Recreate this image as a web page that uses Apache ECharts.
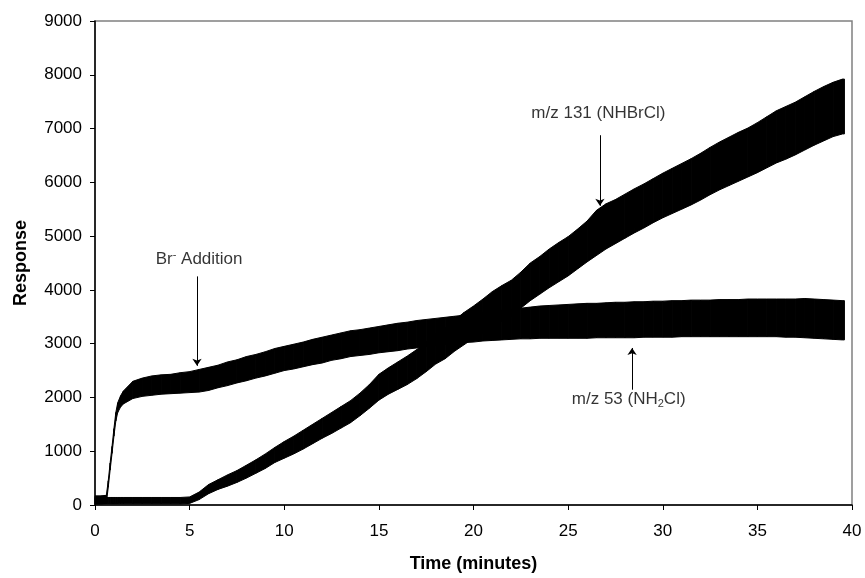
<!DOCTYPE html>
<html>
<head>
<meta charset="utf-8">
<script src="https://cdn.jsdelivr.net/npm/echarts@6/dist/echarts.min.js"></script>
<style>
html,body{margin:0;padding:0;background:#fff;}
#chart{width:865px;height:578px;}
</style>
</head>
<body>
<div id="chart"></div>
<script>
// Time grid (minutes)
const T = [0, 0.3, 0.6, 0.7, 0.8, 0.9, 1.0, 1.1, 1.2, 1.35, 1.5,
  2, 2.5, 3, 3.5, 4, 4.5, 5, 5.5, 6, 6.5, 7, 7.5, 8, 8.5, 9, 9.5, 10,
  10.5, 11, 11.5, 12, 12.5, 13, 13.5, 14, 14.5, 15, 15.5, 16, 16.5, 17, 17.5, 18,
  18.5, 19, 19.5, 20, 20.5, 21, 21.5, 22, 22.5, 23, 23.5, 24, 24.5, 25,
  25.5, 26, 26.5, 27, 27.5, 28, 28.5, 29, 29.5, 30, 30.5, 31, 31.5, 32,
  32.5, 33, 33.5, 34, 34.5, 35, 35.5, 36, 36.5, 37, 37.5, 38, 38.5, 39, 39.5, 39.6];

// m/z 53 (NH2Cl) noise band: lower / upper envelope
const lo53 = [20, 20, 30, 330, 650, 960, 1280, 1560, 1720, 1820, 1880,
  1980, 2020, 2040, 2060, 2070, 2080, 2090, 2100, 2130, 2180, 2220, 2270, 2310, 2360, 2400, 2450, 2500,
  2530, 2570, 2610, 2640, 2690, 2720, 2760, 2780, 2800, 2830, 2850, 2870, 2900, 2920, 2950, 2970,
  2990, 3000, 3020, 3030, 3050, 3060, 3070, 3080, 3090, 3090, 3100, 3100, 3100, 3100,
  3100, 3100, 3110, 3110, 3110, 3110, 3110, 3120, 3120, 3120, 3120, 3130, 3130, 3130,
  3130, 3130, 3130, 3130, 3130, 3130, 3130, 3130, 3120, 3120, 3110, 3100, 3090, 3080, 3070, 3070];
const hi53 = [170, 170, 180, 450, 780, 1090, 1420, 1720, 1900, 2030, 2120,
  2300, 2360, 2400, 2420, 2430, 2460, 2480, 2520, 2560, 2600, 2660, 2700, 2760, 2800, 2850, 2910, 2950,
  2990, 3030, 3080, 3120, 3160, 3200, 3240, 3260, 3290, 3320, 3350, 3380, 3400, 3430, 3450, 3470,
  3490, 3510, 3530, 3560, 3580, 3600, 3620, 3640, 3660, 3680, 3700, 3710, 3720, 3730,
  3740, 3750, 3750, 3760, 3770, 3770, 3780, 3780, 3790, 3790, 3800, 3800, 3810, 3810,
  3810, 3820, 3820, 3820, 3830, 3830, 3830, 3830, 3830, 3830, 3840, 3830, 3820, 3810, 3800, 3800];

// m/z 131 (NHBrCl) noise band: lower / upper envelope
const lo131 = [20, 20, 20, 20, 20, 20, 20, 20, 20, 20, 20,
  20, 20, 20, 20, 20, 20, 30, 100, 210, 290, 350, 420, 500, 590, 680, 790, 870,
  950, 1040, 1140, 1240, 1330, 1430, 1530, 1660, 1800, 1950, 2060, 2150, 2240, 2350, 2480, 2620,
  2720, 2860, 2980, 3100, 3210, 3330, 3420, 3520, 3660, 3800, 3920, 4040, 4150, 4260,
  4390, 4520, 4640, 4760, 4860, 4960, 5060, 5150, 5250, 5340, 5420, 5500, 5580, 5670,
  5770, 5860, 5940, 6020, 6100, 6180, 6270, 6360, 6430, 6510, 6600, 6690, 6770, 6850, 6900, 6900];
const hi131 = [140, 140, 140, 140, 140, 140, 140, 140, 140, 140, 140,
  140, 140, 140, 140, 140, 140, 150, 240, 380, 470, 560, 640, 740, 840, 950, 1070, 1180,
  1280, 1390, 1500, 1610, 1720, 1830, 1940, 2080, 2240, 2430, 2550, 2660, 2770, 2890, 3030, 3180,
  3290, 3440, 3580, 3700, 3830, 3970, 4080, 4180, 4330, 4500, 4620, 4760, 4880, 4990,
  5130, 5280, 5480, 5600, 5680, 5780, 5880, 5970, 6070, 6170, 6260, 6350, 6440, 6540,
  6650, 6750, 6840, 6930, 7010, 7110, 7220, 7330, 7410, 7490, 7590, 7690, 7780, 7860, 7920, 7920];

// Axis ticks
const xTicks = {min: 0, max: 40, interval: 5};
const yTicks = {min: 0, max: 9000, interval: 1000};

// Annotations
const annoText = ['{n|Br}{sup|-}{n| Addition}', '{n|m/z 131 (NHBrCl)}', '{n|m/z 53 (NH}{sub|2}{n|Cl)}'];
const annoPos = [[5.5, 4566], [26.6, 7283], [28.2, 1959]];
const arrowFrom = [[5.39, 4251], [26.68, 6876], [28.38, 2144]];
const arrowTo = [[5.39, 2588], [26.68, 5564], [28.38, 2920]];

function segments(lo, hi) {
  const out = [];
  for (let i = 0; i < T.length - 1; i++) {
    out.push([T[i], lo[i], hi[i], T[i + 1], lo[i + 1], hi[i + 1]]);
  }
  return out;
}
function bandRender(params, api) {
  const a = api.coord([api.value(0), api.value(1)]);
  const b = api.coord([api.value(3), api.value(4)]);
  const c = api.coord([api.value(3), api.value(5)]);
  const d = api.coord([api.value(0), api.value(2)]);
  return {
    type: 'polygon',
    shape: {points: [a, b, c, d]},
    style: {fill: '#000', stroke: '#000', lineWidth: 1}
  };
}

const FONT = 'Liberation Sans, Arial, sans-serif';
const chart = echarts.init(document.getElementById('chart'), null, {renderer: 'canvas'});
chart.setOption({
  backgroundColor: '#fff',
  animation: false,
  grid: {left: 95, right: 13, top: 21, bottom: 70, show: true, borderColor: '#808080', borderWidth: 1.5, backgroundColor: 'transparent'},
  xAxis: {
    type: 'value', min: xTicks.min, max: xTicks.max, interval: xTicks.interval,
    name: 'Time (minutes)', nameLocation: 'middle', nameGap: 50,
    nameTextStyle: {fontFamily: FONT, fontSize: 18, fontWeight: 'bold', color: '#000'},
    axisLine: {show: true, onZero: false, lineStyle: {color: '#000', width: 1.5}},
    axisTick: {show: true, inside: false, length: 5, lineStyle: {color: '#000', width: 1}},
    axisLabel: {fontFamily: FONT, fontSize: 17, color: '#000', margin: 18, formatter: v => String(v)},
    splitLine: {show: false}
  },
  yAxis: {
    type: 'value', min: yTicks.min, max: yTicks.max, interval: yTicks.interval,
    name: 'Response', nameLocation: 'middle', nameGap: 65, nameRotate: 90,
    nameTextStyle: {fontFamily: FONT, fontSize: 18, fontWeight: 'bold', color: '#000'},
    axisLine: {show: true, onZero: false, lineStyle: {color: '#000', width: 1.5}},
    axisTick: {show: true, inside: false, length: 5, lineStyle: {color: '#000', width: 1}},
    axisLabel: {fontFamily: FONT, fontSize: 17, color: '#000', margin: 13, formatter: v => String(v)},
    splitLine: {show: false}
  },
  series: [
    {
      name: 'm/z 53', type: 'custom', renderItem: bandRender,
      data: segments(lo53, hi53), encode: {x: [0, 3], y: [1, 2, 4, 5]}, silent: true
    },
    {
      name: 'm/z 131', type: 'custom', renderItem: bandRender,
      data: segments(lo131, hi131), encode: {x: [0, 3], y: [1, 2, 4, 5]}, silent: true
    },
    {
      type: 'lines', coordinateSystem: 'cartesian2d', silent: true,
      symbol: ['none', 'arrow'], symbolSize: [0, 7],
      lineStyle: {color: '#000', width: 1, opacity: 1, curveness: 0},
      data: arrowFrom.map((f, i) => ({coords: [f, arrowTo[i]]})),
      z: 5
    },
    {
      type: 'scatter', symbolSize: 0, silent: true, z: 6,
      itemStyle: {color: '#000'},
      data: annoPos.map((p, i) => ({value: p, name: annoText[i]})),
      label: {
        show: true, position: 'inside', color: '#000', textBorderWidth: 0,
        formatter: p => p.name,
        rich: {
          n: {fontFamily: FONT, fontSize: 17, color: '#000', lineHeight: 19, textBorderWidth: 0},
          sup: {fontFamily: FONT, fontSize: 11, color: '#000', lineHeight: 11, verticalAlign: 'top', textBorderWidth: 0},
          sub: {fontFamily: FONT, fontSize: 11, color: '#000', lineHeight: 11, verticalAlign: 'bottom', textBorderWidth: 0}
        }
      }
    }
  ]
});
</script>
</body>
</html>
